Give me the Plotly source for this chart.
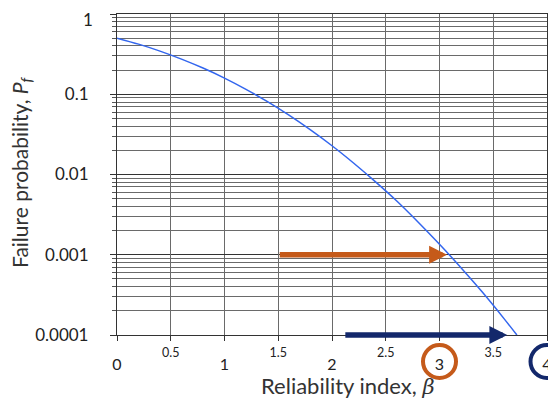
import math
import plotly.graph_objects as go

# Reliability index beta vs failure probability Pf
beta = [0.0, 0.2, 0.4, 0.6, 0.8, 1.0, 1.2, 1.4, 1.6, 1.8, 2.0,
        2.2, 2.4, 2.6, 2.8, 3.0, 3.2, 3.4, 3.6, 3.72]
pf = [0.5, 0.421, 0.345, 0.274, 0.212, 0.159, 0.115, 0.0808, 0.0548, 0.0359, 0.0228,
      0.0139, 0.0082, 0.0047, 0.00256, 0.00135, 0.00069, 0.00034, 0.00016, 0.0001]

x_major_ticks = [0, 1, 2, 3, 4]
x_half_ticks = [0.5, 1.5, 2.5, 3.5]
y_ticks = [0.0001, 0.001, 0.01, 0.1, 1]
y_ticktext = ["0.0001", "0.001", "0.01", "0.1", "1"]

# Arrows: (start beta, end beta, Pf level, colour)
arrow_orange = dict(start=1.5, end=3.07, level=0.001, color="#C55A1A")
arrow_navy = dict(start=2.11, end=3.63, level=0.0001, color="#13286B")

# circled tick labels
circles = [dict(at=3, color="#C55A1A"), dict(at=4, color="#13286B")]

X_RANGE = [0, 4]
FONT = "Lato, 'Open Sans', sans-serif"
GRID = "#6a6a6a"

# page body has an 8px default margin; figure sized to fit the 556x398 window
W, H = 548, 390
ML, MR, MT, MB = 109, 9, 6, 63
PLOT_W = W - ML - MR
PLOT_H = H - MT - MB

fig = go.Figure()
fig.add_trace(go.Scatter(x=beta, y=pf, mode="lines",
                         line=dict(color="#3366ee", width=1.5, shape="spline", smoothing=0.8),
                         showlegend=False, hoverinfo="skip", cliponaxis=False))
# invisible trace for secondary x axis (half ticks)
fig.add_trace(go.Scatter(x=[X_RANGE[0]], y=[1], xaxis="x2", mode="markers",
                         marker=dict(opacity=0), showlegend=False, hoverinfo="skip"))

minor_vals = [m * 10 ** e for e in range(-4, 0) for m in range(2, 10)]

# the top label ("1") is drawn slightly lower, as in the original, so it is not cut
y_axis_text = [t if v < 1 else " " for v, t in zip(y_ticks, y_ticktext)]

fig.update_layout(
    width=W, height=H,
    margin=dict(l=ML, r=MR, t=MT, b=MB),
    paper_bgcolor="white", plot_bgcolor="white",
    font=dict(family=FONT, color="#222222"),
    xaxis=dict(range=X_RANGE, tickvals=x_major_ticks,
               ticktext=[str(v) for v in x_major_ticks],
               tickfont=dict(size=16, color="#222222"),
               ticks="outside", ticklen=5, tickcolor="#333333",
               showgrid=True, gridcolor=GRID, gridwidth=1,
               showline=True, linecolor="#333333", linewidth=1.2, mirror=True,
               zeroline=False, ticklabelstandoff=10, automargin=False,
               ticklabeloverflow="allow"),
    xaxis2=dict(range=X_RANGE, overlaying="x", anchor="y", side="bottom",
                tickvals=x_half_ticks, ticktext=[str(v) for v in x_half_ticks],
                tickfont=dict(size=12.5, color="#222222"),
                ticks="outside", ticklen=5, tickcolor="#333333",
                showgrid=True, gridcolor=GRID, gridwidth=1,
                showline=False, zeroline=False, ticklabelstandoff=1, automargin=False,
                ticklabeloverflow="allow"),
    yaxis=dict(type="log", range=[-4, 0], tickvals=y_ticks, ticktext=y_axis_text,
               tickfont=dict(size=17, color="#222222"),
               ticks="outside", ticklen=6, tickcolor="#333333",
               showgrid=True, gridcolor="#333333", gridwidth=1.4,
               showline=True, linecolor="#333333", linewidth=1.2, mirror=True,
               zeroline=False, ticklabelstandoff=18, automargin=False,
               ticklabeloverflow="allow",
               minor=dict(tickvals=minor_vals, showgrid=True, gridcolor=GRID,
                          gridwidth=1, ticks="outside", ticklen=4,
                          tickcolor="#555555")),
)

for v, t in zip(y_ticks, y_ticktext):
    if v >= 1:
        fig.add_annotation(xref="paper", yref="y", x=0, y=math.log10(v),
                           text=t, showarrow=False, xanchor="right", yanchor="middle",
                           xshift=-22, yshift=-5,
                           font=dict(size=17, color="#222222", family=FONT))

for a in (arrow_orange, arrow_navy):
    lvl = math.log10(a["level"])
    fig.add_annotation(x=a["end"], y=lvl, ax=a["start"], ay=lvl,
                       xref="x", yref="y", axref="x", ayref="y",
                       text="", showarrow=True, arrowhead=2, arrowsize=0.65,
                       arrowwidth=5.5, arrowcolor=a["color"], standoff=0)

for c in circles:
    px = (c["at"] - X_RANGE[0]) / (X_RANGE[1] - X_RANGE[0])
    fig.add_shape(type="circle", xref="paper", yref="paper",
                  xsizemode="pixel", ysizemode="pixel",
                  xanchor=px, yanchor=0,
                  x0=-16.5, x1=16.5, y0=-43, y1=-10,
                  line=dict(color=c["color"], width=4), fillcolor="rgba(0,0,0,0)",
                  layer="above")

# axis titles (positions in window pixels converted to paper coords)
def paper_x(px):
    return (px - 8 - ML) / PLOT_W

def paper_y(py):
    return (H - MB + 8 - py) / PLOT_H

fig.add_annotation(xref="paper", yref="paper", x=paper_x(348), y=paper_y(386),
                   text="Reliability index, <span style='font-family:DejaVu Serif;font-size:21px'><i>β</i></span>",
                   showarrow=False, xanchor="center", yanchor="middle",
                   font=dict(size=22, color="#333333", family=FONT))
fig.add_annotation(xref="paper", yref="paper", x=paper_x(21), y=paper_y(172),
                   text="Failure probability, <i>P</i><sub><i>f</i></sub>",
                   textangle=-90, showarrow=False, xanchor="center", yanchor="middle",
                   font=dict(size=21, color="#333333", family=FONT))

fig.write_html("out.html")
